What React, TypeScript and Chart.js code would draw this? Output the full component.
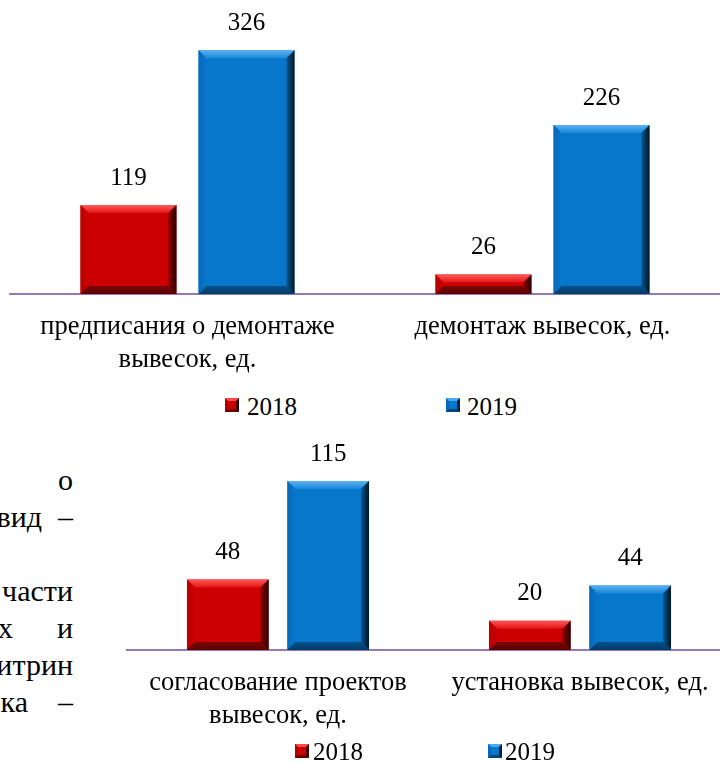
import React, { useEffect, useRef } from 'react';
import { Chart, registerables } from 'chart.js';

Chart.register(...registerables);

// ---------- data ----------
const seriesNames = ['2018', '2019'];

const topCategories: (string | string[])[] = [['предписания о демонтаже', 'вывесок, ед.'], 'демонтаж вывесок, ед.'];
const top2018 = [119, 26];
const top2019 = [326, 226];

const bottomCategories: (string | string[])[] = [['согласование проектов', 'вывесок, ед.'], 'установка вывесок, ед.'];
const bottom2018 = [48, 20];
const bottom2019 = [115, 44];

const paragraphLines = ['о', 'вид –', '', 'части', 'х и', 'итрин', 'ка –'];

// ---------- styles ----------
const FONT = '"Liberation Serif", "Times New Roman", serif';
const RED = '#cc0000';
const BLUE = '#0777cc';
const AXIS = '#9478b8';
const lineWordSpacing = [0, 8.5, 0, 0, 36.5, 0, 22.5];

type Shade = { top: [string, string]; left: [string, string]; right: [string, string]; bottom: [string, string] };
const shades: Shade[] = [
  { top: ['#ff5a5a', '#e31414'], left: ['#b80000', '#cc0000'], right: ['#8a0000', '#2a0000'], bottom: ['#7a0808', '#5a0000'] },
  { top: ['#5ab2f4', '#1a86d9'], left: ['#0669b8', '#0777cc'], right: ['#045690', '#021626'], bottom: ['#05508a', '#033a66'] },
];

const bevelPlugin = {
  id: 'bevel',
  afterDatasetsDraw(chart: any) {
    const ctx: CanvasRenderingContext2D = chart.ctx;
    ctx.save();
    chart.data.datasets.forEach((_ds: any, i: number) => {
      const sh = shades[i];
      chart.getDatasetMeta(i).data.forEach((el: any) => {
        const { x, y, base, width } = el.getProps(['x', 'y', 'base', 'width'], true);
        const l = x - width / 2;
        const r = x + width / 2;
        const t = Math.min(y, base);
        const b = Math.max(y, base);
        const d = Math.min(8, (b - t) / 2, width / 2);
        if (d <= 0) return;
        const poly = (pts: number[][], fill: any) => {
          ctx.beginPath();
          ctx.moveTo(pts[0][0], pts[0][1]);
          for (let k = 1; k < pts.length; k++) ctx.lineTo(pts[k][0], pts[k][1]);
          ctx.closePath();
          ctx.fillStyle = fill;
          ctx.fill();
        };
        let g = ctx.createLinearGradient(0, t, 0, t + d);
        g.addColorStop(0, sh.top[0]);
        g.addColorStop(1, sh.top[1]);
        poly([[l, t], [r, t], [r - d, t + d], [l + d, t + d]], g);
        g = ctx.createLinearGradient(l, 0, l + d, 0);
        g.addColorStop(0, sh.left[0]);
        g.addColorStop(1, sh.left[1]);
        poly([[l, t], [l + d, t + d], [l + d, b - d], [l, b]], g);
        g = ctx.createLinearGradient(r - d, 0, r, 0);
        g.addColorStop(0, sh.right[0]);
        g.addColorStop(1, sh.right[1]);
        poly([[r, t], [r, b], [r - d, b - d], [r - d, t + d]], g);
        g = ctx.createLinearGradient(0, b - d, 0, b);
        g.addColorStop(0, sh.bottom[0]);
        g.addColorStop(1, sh.bottom[1]);
        poly([[l, b], [r, b], [r - d, b - d], [l + d, b - d]], g);
      });
    });
    ctx.restore();
  },
};

const valueLabelPlugin = {
  id: 'valueLabels',
  afterDatasetsDraw(chart: any) {
    const ctx: CanvasRenderingContext2D = chart.ctx;
    ctx.save();
    ctx.font = `25px ${FONT}`;
    ctx.fillStyle = '#000';
    ctx.textAlign = 'center';
    ctx.textBaseline = 'middle';
    chart.data.datasets.forEach((ds: any, i: number) => {
      chart.getDatasetMeta(i).data.forEach((el: any, j: number) => {
        const { x, y } = el.getProps(['x', 'y'], true);
        ctx.fillText(String(ds.data[j]), x, y - 27);
      });
    });
    ctx.restore();
  },
};

type BarProps = {
  labels: (string | string[])[];
  a: number[];
  b: number[];
  max: number;
  width: number;
  height: number;
  left: number;
  top: number;
  padding: { top: number; left: number; right: number; bottom: number };
  axisHeight: number;
};

function BarChart(p: BarProps) {
  const ref = useRef<HTMLCanvasElement>(null);
  useEffect(() => {
    const chart = new Chart(ref.current as HTMLCanvasElement, {
      type: 'bar',
      data: {
        labels: p.labels as any,
        datasets: [
          { label: seriesNames[0], data: p.a, backgroundColor: RED, borderWidth: 0, categoryPercentage: 0.665, barPercentage: 0.813 },
          { label: seriesNames[1], data: p.b, backgroundColor: BLUE, borderWidth: 0, categoryPercentage: 0.665, barPercentage: 0.813 },
        ],
      },
      options: {
        responsive: false,
        animation: false,
        devicePixelRatio: 1,
        layout: { padding: p.padding },
        plugins: { legend: { display: false }, tooltip: { enabled: false } },
        scales: {
          x: {
            grid: { display: false, drawTicks: false, tickLength: 0 },
            border: { display: true, color: AXIS, width: 2 },
            ticks: {
              color: '#000',
              font: { size: 26.5, family: FONT, lineHeight: 1.23 },
              padding: 17,
              maxRotation: 0,
              minRotation: 0,
              autoSkip: false,
            },
            afterFit: (s: any) => {
              s.height = p.axisHeight;
            },
          },
          y: { display: false, min: 0, max: p.max },
        },
      } as any,
      plugins: [bevelPlugin, valueLabelPlugin],
    });
    return () => chart.destroy();
  }, []);
  return (
    <canvas
      ref={ref}
      width={p.width}
      height={p.height}
      style={{ position: 'absolute', left: p.left, top: p.top, width: p.width, height: p.height }}
    />
  );
}

function Marker({ kind, left, top }: { kind: number; left: number; top: number }) {
  const isRed = kind === 0;
  return (
    <div
      style={{
        position: 'absolute',
        left,
        top,
        width: 14,
        height: 14,
        boxSizing: 'border-box',
        background: isRed ? RED : BLUE,
        borderTop: `3px solid ${isRed ? '#ff4a4a' : '#4aa8f0'}`,
        borderLeft: `3px solid ${isRed ? '#b00000' : '#0669b8'}`,
        borderRight: `3px solid ${isRed ? '#3a0000' : '#02223c'}`,
        borderBottom: `3px solid ${isRed ? '#6a0000' : '#04467a'}`,
      }}
    />
  );
}

function Legend({ top, markerTop, pos }: { top: number; markerTop: number; pos: number[][] }) {
  return (
    <>
      {seriesNames.map((name, i) => (
        <React.Fragment key={name}>
          <Marker kind={i} left={pos[i][0]} top={markerTop} />
          <div
            style={{
              position: 'absolute',
              left: pos[i][1],
              top,
              font: `25px/25px ${FONT}`,
              color: '#000',
              whiteSpace: 'nowrap',
            }}
          >
            {name}
          </div>
        </React.Fragment>
      ))}
    </>
  );
}

export default function App() {
  return (
    <div
      style={{
        position: 'fixed',
        left: 0,
        top: 0,
        width: 720,
        height: 763,
        overflow: 'hidden',
        background: '#fff',
      }}
    >
      <BarChart
        labels={topCategories}
        a={top2018}
        b={top2019}
        max={380}
        width={720}
        height={390}
        left={0}
        top={0}
        padding={{ top: 10, left: 10, right: 0, bottom: 0 }}
        axisHeight={96}
      />
      <Legend top={394} markerTop={398} pos={[[225, 247], [446, 467]]} />

      <BarChart
        labels={bottomCategories}
        a={bottom2018}
        b={bottom2019}
        max={143}
        width={640}
        height={340}
        left={100}
        top={420}
        padding={{ top: 20, left: 27, right: 9, bottom: 0 }}
        axisHeight={110}
      />
      <Legend top={739} markerTop={744} pos={[[295, 313], [488, 505]]} />

      <div
        style={{
          position: 'absolute',
          left: -227,
          top: 461,
          width: 300,
          textAlign: 'right',
          font: `30px/37px ${FONT}`,
          color: '#000',
          whiteSpace: 'pre',
        }}
      >
        {paragraphLines.map((line, i) => (
          <div key={i} style={{ wordSpacing: lineWordSpacing[i], height: 37 }}>
            {line}
          </div>
        ))}
      </div>
    </div>
  );
}
